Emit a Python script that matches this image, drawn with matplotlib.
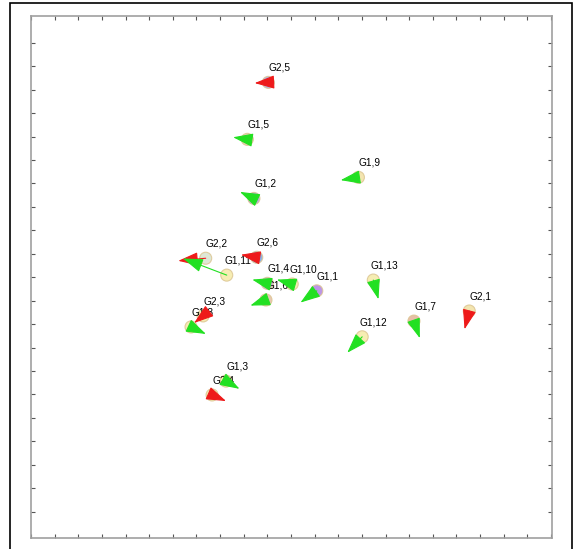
import matplotlib
matplotlib.use("Agg")
import matplotlib.pyplot as plt
from matplotlib.patches import FancyArrowPatch, Rectangle

plt.rcParams['font.family'] = ['Liberation Sans', 'DejaVu Sans']

# nodos: nome, posicao, ponta da seta
nomes = ['G2,5', 'G1,5', 'G1,2', 'G2,2', 'G1,11', 'G2,6', 'G1,4', 'G1,10',
         'G1,6', 'G1,1', 'G2,3', 'G1,8', 'G1,9', 'G1,13', 'G2,1', 'G1,7',
         'G1,12', 'G1,3', 'G2,4']
x_no = [10.04, 9.15, 9.43, 7.39, 8.28, 9.55, 10.00, 11.05,
        9.94, 12.09, 7.28, 6.77, 13.85, 14.48, 18.54, 16.20,
        14.01, 8.25, 7.66]
y_no = [18.31, 15.88, 13.36, 10.81, 10.09, 10.85, 9.74, 9.71,
        9.03, 9.42, 8.35, 7.88, 14.26, 9.88, 8.56, 8.13,
        7.46, 5.57, 4.98]
x_seta = [9.46, 8.55, 8.84, 6.23, 6.43, 8.88, 9.36, 10.40,
          9.28, 11.40, 6.90, 7.40, 13.10, 14.70, 18.34, 16.45,
          13.38, 8.82, 8.25]
y_seta = [18.28, 15.97, 13.64, 10.70, 10.80, 10.96, 9.90, 9.90,
          8.79, 8.92, 8.05, 7.58, 14.14, 9.06, 7.78, 7.40,
          6.78, 5.24, 4.72]
cores_no = ['#a4a8e4', '#e6c9ad', '#ab96e2', '#d9e3cf', '#f5eaa6', '#78a6e2', '#c9a3d6', '#f5eaa6',
            '#e4bfa6', '#b184e2', '#f5eaa6', '#f5eaa6', '#f1e1a2', '#f5eaa6', '#f1e1a2', '#e3b398',
            '#f5eaa6', '#f5eaa6', '#f5eaa6']

fig = plt.figure(figsize=(5.75, 5.49), dpi=100)
ax = fig.add_axes([31/575, 11/549, 521/575, 522/549])

ax.scatter(x_no, y_no, s=75, c=cores_no, edgecolors='#dcc592', linewidths=0.8,
           alpha=0.85, zorder=2)

for nome, x, y in zip(nomes, x_no, y_no):
    ax.annotate(nome, (x, y), xytext=(8, 10.5), textcoords='offset points',
                ha='center', va='center', fontsize=7.3, zorder=3)

for nome, x0, y0, x1, y1 in zip(nomes, x_no, y_no, x_seta, y_seta):
    cor = '#ee1a1a' if nome.startswith('G2') else '#22e022'
    seta = FancyArrowPatch((x0, y0), (x1, y1),
                           arrowstyle='-|>,head_length=0.62,head_width=0.21',
                           mutation_scale=20, color=cor, lw=0.8,
                           shrinkA=0, shrinkB=0, zorder=4)
    ax.add_patch(seta)

ax.set_xlim(0, 22.04)
ax.set_ylim(-1.12, 21.14)
ax.set_xticks(range(0, 23))
ax.set_yticks(range(0, 21))
ax.tick_params(direction='in', length=3, width=0.8, color='#555555',
               top=True, right=True, labelbottom=False, labelleft=False)
for s in ax.spines.values():
    s.set_color('#a0a0a0')
    s.set_linewidth(1.2)

# moldura externa
fig.add_artist(Rectangle((10/575, -0.05), 562/575, 1.05 - 3/549,
                         transform=fig.transFigure, fill=False,
                         edgecolor='black', lw=1.2))

plt.savefig("out.png")
